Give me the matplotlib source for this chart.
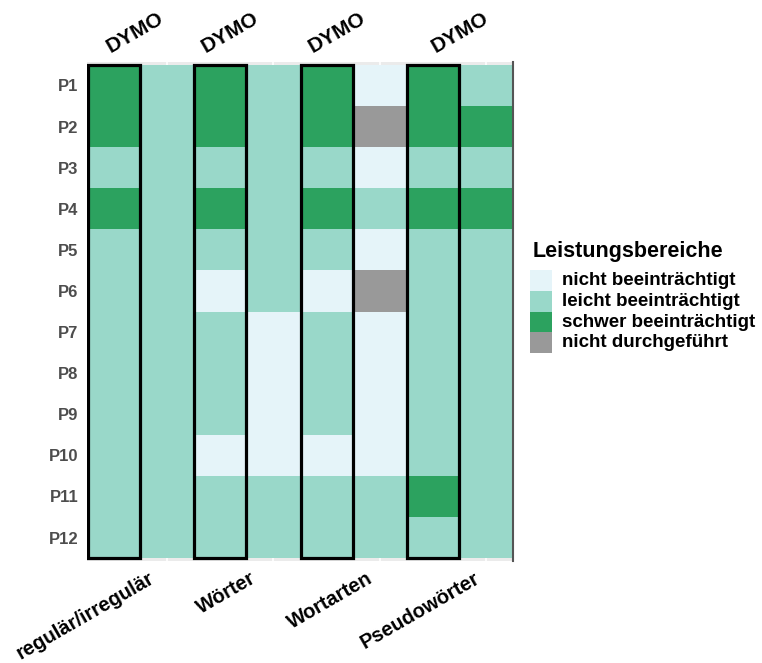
import numpy as np
import matplotlib
matplotlib.use("Agg")
import matplotlib.pyplot as plt
from matplotlib.colors import ListedColormap, BoundaryNorm
from matplotlib.patches import Rectangle
from matplotlib.transforms import offset_copy

plt.rcParams['font.family'] = ['Liberation Sans', 'DejaVu Sans']
plt.rcParams['font.weight'] = 'bold'

# ---------------- data ----------------
participants = ['P1', 'P2', 'P3', 'P4', 'P5', 'P6', 'P7', 'P8', 'P9', 'P10', 'P11', 'P12']
levels = ['nicht beeinträchtigt', 'leicht beeinträchtigt', 'schwer beeinträchtigt', 'nicht durchgeführt']
level_colors = ['#E5F4F9', '#99D8C9', '#2CA25F', '#999999']

# codes: 0 nicht, 1 leicht, 2 schwer, 3 nicht durchgeführt
dymo_regulaer   = [2, 2, 1, 2, 1, 1, 1, 1, 1, 1, 1, 1]
test_regulaer   = [1, 1, 1, 1, 1, 1, 1, 1, 1, 1, 1, 1]
dymo_woerter    = [2, 2, 1, 2, 1, 0, 1, 1, 1, 0, 1, 1]
test_woerter    = [1, 1, 1, 1, 1, 1, 0, 0, 0, 0, 1, 1]
dymo_wortarten  = [2, 2, 1, 2, 1, 0, 1, 1, 1, 0, 1, 1]
test_wortarten  = [0, 3, 0, 1, 0, 3, 0, 0, 0, 0, 1, 1]
dymo_pseudo     = [2, 2, 1, 2, 1, 1, 1, 1, 1, 1, 2, 1]
test_pseudo     = [1, 2, 1, 2, 1, 1, 1, 1, 1, 1, 1, 1]

columns = [dymo_regulaer, test_regulaer, dymo_woerter, test_woerter,
           dymo_wortarten, test_wortarten, dymo_pseudo, test_pseudo]
dymo_columns = [0, 2, 4, 6]
top_labels = ['DYMO', 'DYMO', 'DYMO', 'DYMO']
bottom_labels = ['regulär/irregulär', 'Wörter', 'Wortarten', 'Pseudowörter']
legend_title = 'Leistungsbereiche'

# ---------------- figure ----------------
W, H = 762, 663
fig = plt.figure(figsize=(W / 100, H / 100), dpi=100)
x0, x1 = 87, 513
y0, y1 = 62, 561
ax = fig.add_axes([x0 / W, 1 - y1 / H, (x1 - x0) / W, (y1 - y0) / H])
ax.set_facecolor('#EBEBEB')

grid = np.array(columns).T  # rows = participants
ncol = grid.shape[1]
nrow = grid.shape[0]
cmap = ListedColormap(level_colors)
norm = BoundaryNorm(np.arange(-0.5, len(levels) + 0.5, 1), cmap.N)

# faint white grid lines (panel background visible at top/bottom)
for c in [1, 3, 5, 7]:
    ax.axvline(c + 0.5, color='white', lw=1.2, zorder=0)

ax.pcolormesh(np.arange(ncol + 1), np.arange(nrow + 1), grid, cmap=cmap, norm=norm,
              zorder=1, edgecolor='none')
ax.set_xlim(0, ncol)
ax.set_ylim(nrow + 0.07, -0.07)

for c in dymo_columns:
    ax.add_patch(Rectangle((c + 0.01, 0), 0.98, nrow, fill=False, edgecolor='black',
                           lw=2.3, zorder=3, joinstyle='miter'))

for s in ['top', 'bottom', 'left']:
    ax.spines[s].set_visible(False)
ax.spines['right'].set_color('#555555')
ax.spines['right'].set_linewidth(1.5)

ax.set_yticks(np.arange(nrow) + 0.5)
ax.set_yticklabels(participants, fontsize=12, color='#4D4D4D', fontweight='bold')
ax.tick_params(axis='y', length=0, pad=6)
ax.set_xticks([])

# bottom labels (top-right anchored)
bottom_pos = [1.14, 3.05, 5.25, 7.25]
for p, lab in zip(bottom_pos, bottom_labels):
    ax.text(p, 0.0, lab, transform=offset_copy(ax.get_xaxis_transform(), fig=fig, x=0, y=-8, units='dots'),
            rotation=30, rotation_mode='anchor', ha='right', va='top',
            fontsize=14.5, fontweight='bold', color='black')

# top DYMO labels (baseline-left anchored)
top_pos = [0.45, 2.22, 4.23, 6.55]
for p, lab in zip(top_pos, top_labels):
    ax.text(p, 1.0, lab, transform=offset_copy(ax.get_xaxis_transform(), fig=fig, x=0, y=9, units='dots'),
            rotation=30, rotation_mode='anchor', ha='left', va='baseline',
            fontsize=15, fontweight='bold', color='black')

# legend (drawn manually in figure pixel coordinates)
def fx(px):
    return px / W

def fy(py):
    return 1 - py / H

fig.text(fx(533), fy(257), legend_title, fontsize=15.5, fontweight='bold',
         ha='left', va='baseline', color='black')
key_top, key_h = 270, 20.8
for i, (col, lab) in enumerate(zip(level_colors, levels)):
    top = key_top + i * key_h
    fig.patches.append(Rectangle((fx(530), fy(top + key_h)), fx(552) - fx(530),
                                 key_h / H, transform=fig.transFigure,
                                 facecolor=col, edgecolor='none'))
    fig.text(fx(562), fy(top + key_h / 2), lab, fontsize=13.5, fontweight='bold',
             ha='left', va='center', color='black')

fig.savefig('out.png', dpi=100)
